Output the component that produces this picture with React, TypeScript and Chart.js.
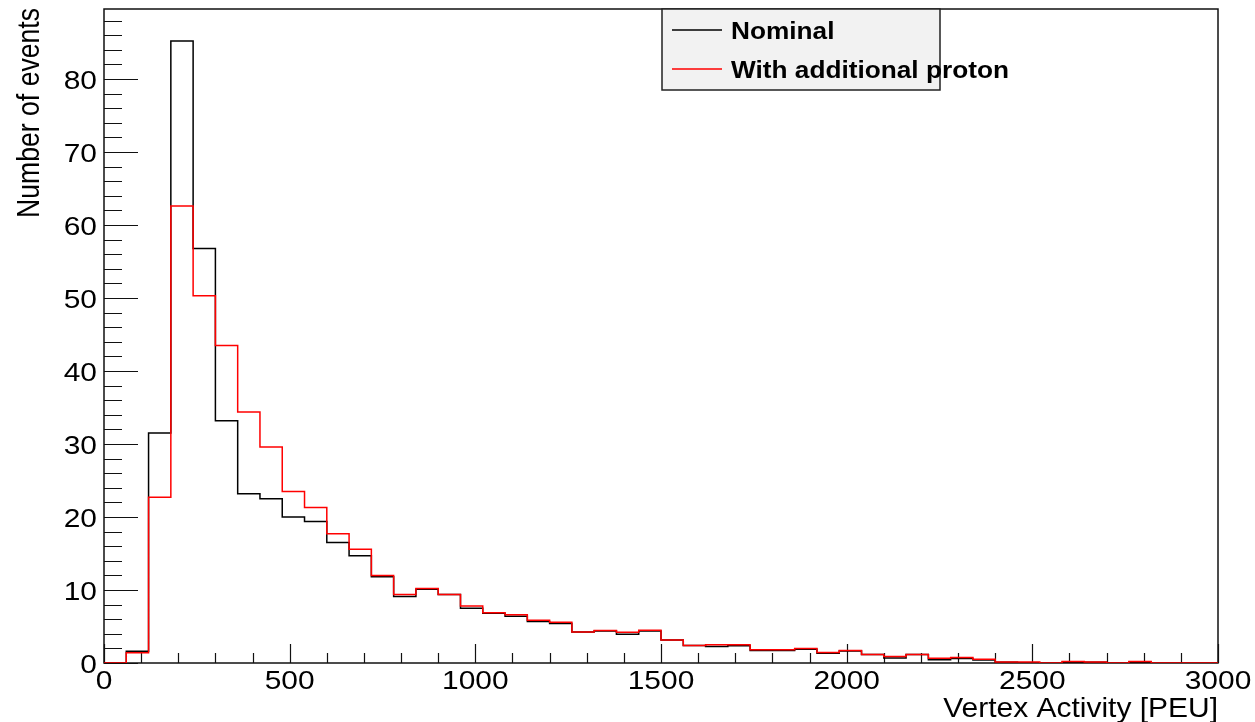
import React, { useEffect, useRef } from "react";
import { Chart, registerables } from "chart.js";

Chart.register(...registerables);

// ---- data ----
const BIN_WIDTH = 60;
const X_MIN = 0;
const X_MAX = 3000;
const Y_MAX = 89.6;

const binStarts: number[] = Array.from({ length: 50 }, (_, i) => X_MIN + i * BIN_WIDTH);

const nominal: number[] = [
  0, 1.6, 31.5, 85.2, 56.8, 33.2, 23.2, 22.5, 20.0, 19.4,
  16.5, 14.7, 11.8, 9.1, 10.1, 9.4, 7.5, 6.8, 6.4, 5.7,
  5.4, 4.25, 4.4, 3.95, 4.4, 3.15, 2.4, 2.25, 2.35, 1.7,
  1.7, 1.9, 1.35, 1.65, 1.15, 0.7, 1.15, 0.45, 0.6, 0.4,
  0.1, 0.05, 0, 0.1, 0.1, 0, 0.1, 0, 0, 0,
];

const withProton: number[] = [
  0, 1.4, 22.7, 62.6, 50.3, 43.5, 34.4, 29.6, 23.5, 21.3,
  17.7, 15.6, 12.0, 9.4, 10.2, 9.4, 7.8, 6.9, 6.6, 5.85,
  5.6, 4.25, 4.45, 4.2, 4.5, 3.15, 2.4, 2.5, 2.5, 1.8,
  1.8, 2.0, 1.45, 1.7, 1.15, 0.9, 1.15, 0.65, 0.75, 0.5,
  0.15, 0.15, 0, 0.2, 0.15, 0, 0.2, 0, 0, 0,
];

const xTickLabels: number[] = [0, 500, 1000, 1500, 2000, 2500, 3000];
const yTickLabels: number[] = [0, 10, 20, 30, 40, 50, 60, 70, 80];

const seriesNames = ["Nominal", "With additional proton"];
const seriesColors = ["#000000", "#ff0000"];
const xTitle = "Vertex Activity [PEU]";
const yTitle = "Number of events";

function toSteps(values: number[]) {
  const pts = values.map((v, i) => ({ x: binStarts[i], y: v }));
  pts.push({ x: X_MAX, y: values[values.length - 1] });
  return pts;
}

function drawText(
  ctx: CanvasRenderingContext2D,
  text: string,
  x: number,
  y: number,
  font: string,
  align: CanvasTextAlign,
  hs: number
) {
  ctx.save();
  ctx.translate(x, y);
  ctx.scale(hs, 1);
  ctx.font = font;
  ctx.textAlign = align;
  ctx.textBaseline = "alphabetic";
  ctx.fillStyle = "#000";
  ctx.fillText(text, 0, 0);
  ctx.restore();
}

const FONT = '"Liberation Sans", Arial, Helvetica, sans-serif';

const framePlugin = {
  id: "rootFrame",
  beforeDatasetsDraw(chart: any) {
    const { ctx, chartArea } = chart;
    const xs = chart.scales.x;
    const ys = chart.scales.y;
    const { left, right, top, bottom } = chartArea;
    ctx.save();
    // frame
    ctx.strokeStyle = "#111";
    ctx.lineWidth = 1.5;
    ctx.strokeRect(left, top, right - left, bottom - top);
    // x ticks
    ctx.lineWidth = 1.2;
    ctx.beginPath();
    for (let v = X_MIN; v <= X_MAX; v += 100) {
      const px = Math.round(xs.getPixelForValue(v)) + 0.5;
      const len = v % 500 === 0 ? 19 : 10;
      ctx.moveTo(px, bottom);
      ctx.lineTo(px, bottom - len);
    }
    // y ticks
    for (let v = 0; v <= Y_MAX; v += 2) {
      const py = Math.round(ys.getPixelForValue(v)) + 0.5;
      const len = v % 10 === 0 ? 34 : 18;
      ctx.moveTo(left, py);
      ctx.lineTo(left + len, py);
    }
    ctx.stroke();
    ctx.restore();

    // tick labels
    for (const v of xTickLabels) {
      drawText(ctx, String(v), xs.getPixelForValue(v), bottom + 26, `26px ${FONT}`, "center", 1.15);
    }
    for (const v of yTickLabels) {
      drawText(ctx, String(v), left - 7, ys.getPixelForValue(v) + 9.5, `26px ${FONT}`, "right", 1.15);
    }
    // axis titles
    drawText(ctx, xTitle, right, 717, `28px ${FONT}`, "right", 1.07);
    ctx.save();
    ctx.translate(39, top - 1);
    ctx.rotate(-Math.PI / 2);
    ctx.scale(1, 1.15);
    ctx.font = `26.6px ${FONT}`;
    ctx.textAlign = "right";
    ctx.textBaseline = "alphabetic";
    ctx.fillStyle = "#000";
    ctx.fillText(yTitle, 0, 0);
    ctx.restore();
  },
  afterDraw(chart: any) {
    const { ctx } = chart;
    const bx = 662, by = 9, bw = 278, bh = 81;
    ctx.save();
    ctx.fillStyle = "#f2f2f2";
    ctx.fillRect(bx, by, bw, bh);
    ctx.strokeStyle = "#222";
    ctx.lineWidth = 1.5;
    ctx.strokeRect(bx, by, bw, bh);
    const ys = [30, 69];
    for (let i = 0; i < 2; i++) {
      ctx.strokeStyle = seriesColors[i];
      ctx.lineWidth = 1.5;
      ctx.beginPath();
      ctx.moveTo(672, ys[i]);
      ctx.lineTo(722, ys[i]);
      ctx.stroke();
      drawText(ctx, seriesNames[i], 731, ys[i] + 8.5, `bold 23px ${FONT}`, "left", 1.14);
    }
    ctx.restore();
  },
};

export default function App() {
  const ref = useRef<HTMLCanvasElement | null>(null);
  useEffect(() => {
    if (!ref.current) return;
    const chart = new Chart(ref.current, {
      type: "line",
      data: {
        datasets: [
          {
            label: seriesNames[1],
            data: toSteps(withProton),
            borderColor: seriesColors[1],
            borderWidth: 1.5,
            stepped: true,
            pointRadius: 0,
            fill: false,
            order: 0,
          },
          {
            label: seriesNames[0],
            data: toSteps(nominal),
            borderColor: seriesColors[0],
            borderWidth: 1.5,
            stepped: true,
            pointRadius: 0,
            fill: false,
            order: 1,
          },
        ],
      },
      options: {
        responsive: false,
        animation: false,
        devicePixelRatio: 1,
        layout: { padding: { left: 104, top: 9, right: 37, bottom: 59 } },
        plugins: { legend: { display: false }, tooltip: { enabled: false } },
        scales: {
          x: { type: "linear", min: X_MIN, max: X_MAX, display: false },
          y: { type: "linear", min: 0, max: Y_MAX, display: false },
        },
      },
      plugins: [framePlugin],
    });
    return () => chart.destroy();
  }, []);
  return (
    <div style={{ position: "absolute", left: 0, top: 0, width: 1255, height: 722, background: "#fff" }}>
      <canvas ref={ref} width={1255} height={722} />
    </div>
  );
}
